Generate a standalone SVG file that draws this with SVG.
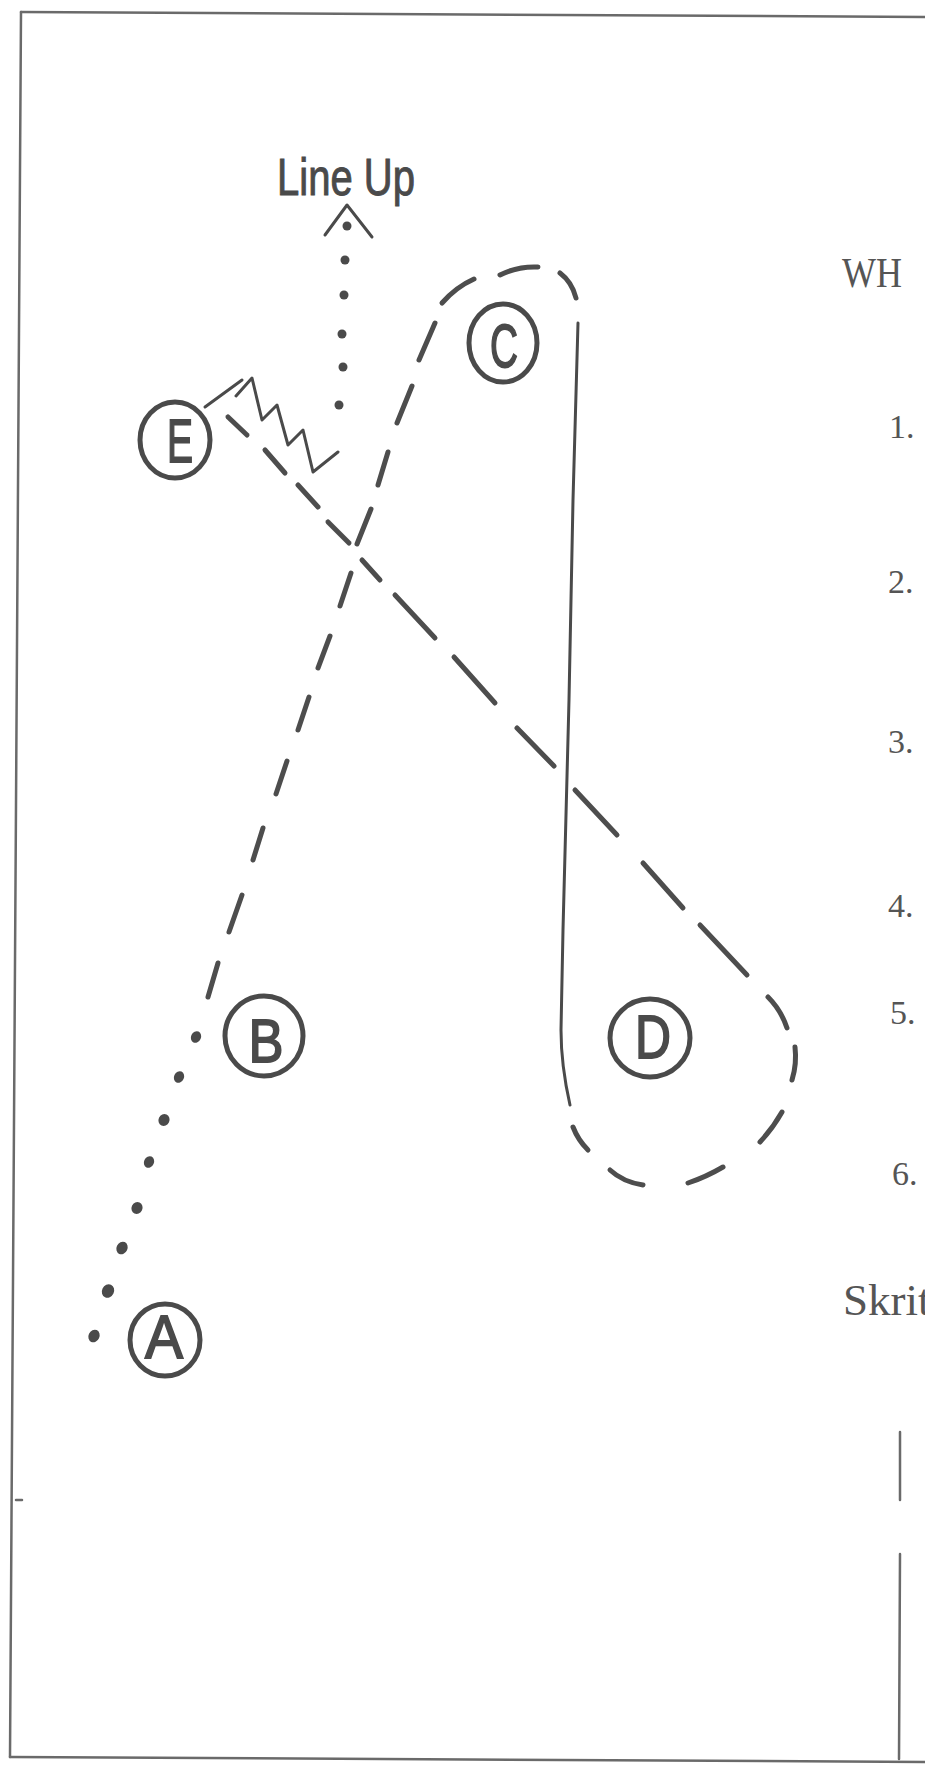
<svg xmlns="http://www.w3.org/2000/svg" width="925" height="1772" viewBox="0 0 925 1772">
<style>
.frame{fill:none;stroke:#6a6a6a;stroke-width:2.5;stroke-linecap:round}
.ring{fill:none;stroke:#4a4a4a;stroke-width:5}
.letter{font-family:"Liberation Sans",Arial,sans-serif;font-size:62px;fill:#4a4a4a;stroke:#4a4a4a;stroke-width:1.8;text-anchor:middle}
.dash{fill:none;stroke:#4d4d4d;stroke-width:5;stroke-linecap:round}
.thin{fill:none;stroke:#4a4a4a;stroke-width:3;stroke-linecap:round;stroke-linejoin:round}
.dot{fill:#4a4a4a}
.num{font-family:"Liberation Serif","Times New Roman",serif;font-size:34px;fill:#555}
.hand{font-family:"Liberation Sans",Arial,sans-serif;font-size:52px;fill:#4a4a4a;stroke:#4a4a4a;stroke-width:1}
</style>
<rect width="925" height="1772" fill="#fff"/>
<g id="frame">
<path class="frame" d="M21,12 L925,17"/>
<path class="frame" d="M21,12 L10,1757"/>
<path class="frame" d="M10,1757 L925,1762"/>
<path class="frame" d="M900,1432 L900,1500"/>
<path class="frame" d="M900,1554 L899,1759"/>
<path class="frame" d="M16,1500 L22,1500" stroke-width="1.5"/>
</g>
<g id="connectors">
<path class="thin" d="M578,323 L573,500 L569,700 L563,930 L561,1030 Q561,1065 570,1105"/>
<g id="lineup-dots">
<circle class="dot" cx="347" cy="226" r="4.5"/>
<circle class="dot" cx="345" cy="260" r="4.5"/>
<circle class="dot" cx="344" cy="295" r="4.5"/>
<circle class="dot" cx="342" cy="334" r="4.5"/>
<circle class="dot" cx="343" cy="367" r="4.5"/>
<circle class="dot" cx="339" cy="405" r="4.5"/>
</g>
<polyline class="thin" stroke-width="4.5" points="325,235 347,205 372,237"/>
<g id="ab-dots">
<ellipse class="dot" cx="196" cy="1037" rx="5" ry="6" transform="rotate(25 196 1037)"/>
<ellipse class="dot" cx="179" cy="1077" rx="5" ry="6" transform="rotate(25 179 1077)"/>
<ellipse class="dot" cx="164" cy="1120" rx="5.5" ry="6" transform="rotate(25 164 1120)"/>
<ellipse class="dot" cx="149" cy="1162" rx="5" ry="6" transform="rotate(25 149 1162)"/>
<ellipse class="dot" cx="137" cy="1208" rx="5.5" ry="6" transform="rotate(25 137 1208)"/>
<ellipse class="dot" cx="122" cy="1248" rx="5.5" ry="6.5" transform="rotate(25 122 1248)"/>
<ellipse class="dot" cx="108" cy="1291" rx="6" ry="7" transform="rotate(25 108 1291)"/>
<ellipse class="dot" cx="94" cy="1336" rx="5.5" ry="6.5" transform="rotate(25 94 1336)"/>
</g>
<g id="bc-dashes">
<path class="dash" d="M218,963 L208,997"/>
<path class="dash" d="M242,895 L229,932"/>
<path class="dash" d="M263,828 L253,860"/>
<path class="dash" d="M287,761 L276,794"/>
<path class="dash" d="M309,697 L298,730"/>
<path class="dash" d="M330,636 L318,668"/>
<path class="dash" d="M351,573 L340,606"/>
<path class="dash" d="M371,509 L357,544"/>
<path class="dash" d="M388,452 L378,485"/>
<path class="dash" d="M412,386 L397,423"/>
<path class="dash" d="M435,323 L419,360"/>
<path class="dash" d="M442,303 Q456,287 474,279"/>
<path class="dash" d="M500,275 Q518,266 538,267"/>
<path class="dash" d="M560,273 Q572,282 576,298"/>
</g>
<g id="ed-dashes">
<path class="dash" d="M228,417 L247,435"/>
<path class="dash" d="M265,450 L285,473"/>
<path class="dash" d="M298,485 L318,507"/>
<path class="dash" d="M328,522 L349,543"/>
<path class="dash" d="M362,560 L380,580"/>
<path class="dash" d="M395,595 L435,638"/>
<path class="dash" d="M454,657 L495,703"/>
<path class="dash" d="M517,728 L554,766"/>
<path class="dash" d="M575,790 L617,835"/>
<path class="dash" d="M643,863 L683,908"/>
<path class="dash" d="M700,925 L747,975"/>
<path class="dash" d="M768,997 Q781,1010 787,1028"/>
<path class="dash" d="M795,1047 Q797,1064 792,1080"/>
<path class="dash" d="M782,1112 Q773,1128 760,1142"/>
<path class="dash" d="M723,1167 Q706,1177 688,1183"/>
<path class="dash" d="M643,1185 Q623,1182 610,1170"/>
<path class="dash" d="M588,1150 Q578,1140 573,1127"/>
</g>
<path class="thin" d="M205,407 L242,380"/>
<polyline class="thin" stroke-width="4" points="236,396 252,378 262,420 277,405 288,445 303,430 313,472 338,452"/>
</g>
<g id="node-C">
<ellipse class="ring" cx="503" cy="343" rx="34" ry="39"/>
<text class="letter" x="504" y="367" textLength="28" lengthAdjust="spacingAndGlyphs">C</text>
</g>
<g id="node-E">
<ellipse class="ring" cx="175" cy="440" rx="35" ry="38"/>
<text class="letter" x="180" y="462" textLength="26" lengthAdjust="spacingAndGlyphs">E</text>
</g>
<g id="node-B">
<ellipse class="ring" cx="264" cy="1036" rx="39" ry="40"/>
<text class="letter" x="266" y="1062" textLength="35" lengthAdjust="spacingAndGlyphs">B</text>
</g>
<g id="node-D">
<ellipse class="ring" cx="650" cy="1038" rx="40" ry="39"/>
<text class="letter" x="653" y="1058" textLength="36" lengthAdjust="spacingAndGlyphs">D</text>
</g>
<g id="node-A">
<ellipse class="ring" cx="165" cy="1340" rx="35" ry="36"/>
<text class="letter" x="164" y="1358" textLength="38" lengthAdjust="spacingAndGlyphs">A</text>
</g>
<g id="label-lineup">
<text class="hand" x="277" y="195" textLength="138" lengthAdjust="spacingAndGlyphs">Line Up</text>
</g>
<g id="notes">
<text class="num" x="842" y="287" style="font-size:42px" textLength="60" lengthAdjust="spacingAndGlyphs">WH</text>
<text class="num" x="889" y="438">1.</text>
<text class="num" x="888" y="593">2.</text>
<text class="num" x="888" y="753">3.</text>
<text class="num" x="888" y="917">4.</text>
<text class="num" x="890" y="1024">5.</text>
<text class="num" x="892" y="1185">6.</text>
<text class="num" x="843" y="1315" style="font-size:45px">Skrit</text>
</g>
</svg>
